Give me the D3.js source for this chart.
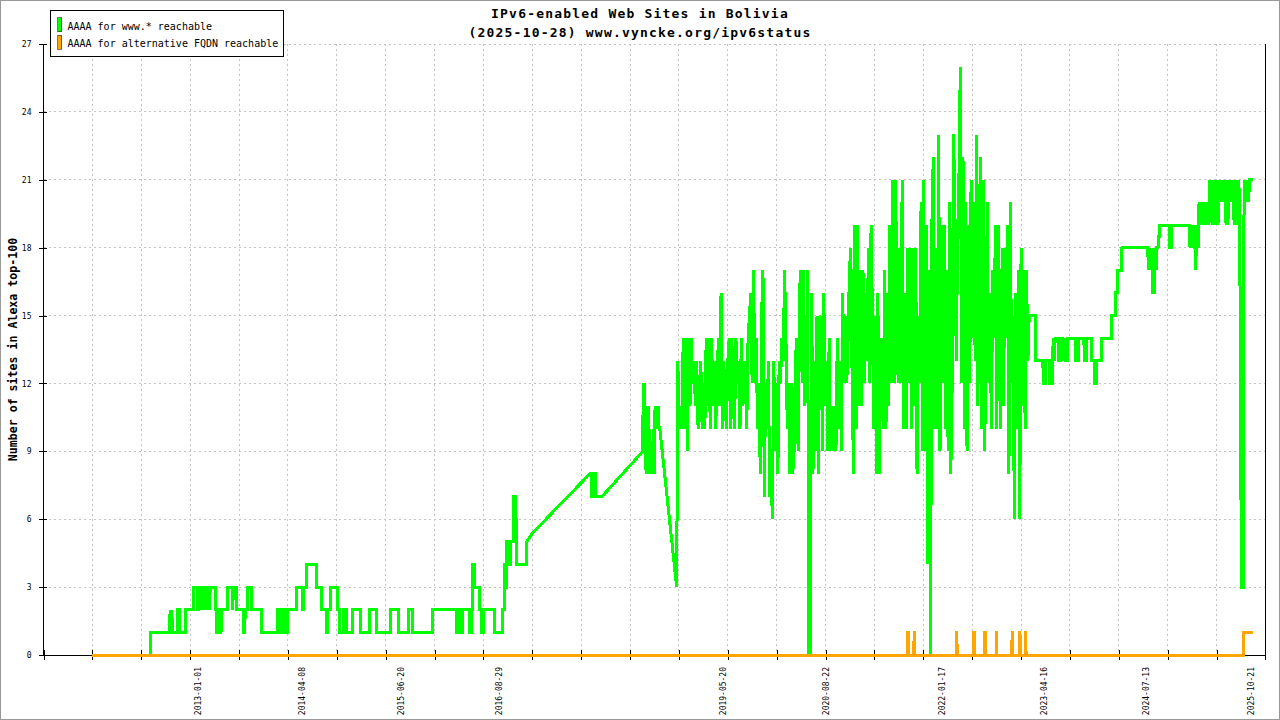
<!DOCTYPE html>
<html><head><meta charset="utf-8">
<script src="https://cdn.jsdelivr.net/npm/d3@7"></script>
<style>
body{margin:0;background:#fff}
svg{display:block}
text{font-family:"DejaVu Sans Mono","Liberation Mono",monospace}
</style></head><body><svg id="c" width="1280" height="720"></svg>
<script>
// ---- data (x = days since startDate) ----
const startDate = "2011-09-20";
const titleLines = ["IPv6-enabled Web Sites in Bolivia", "(2025-10-28) www.vyncke.org/ipv6status"];
const yTitle = "Number of sites in Alexa top-100";
const seriesNames = ["AAAA for www.* reachable", "AAAA for alternative FQDN reachable"];
const seriesColors = ["#00ff00", "#ffa500"];
const yTicks = [0,3,6,9,12,15,18,21,24,27];
const xTickStepDays = 217;
const xDomain = [-217, 5208];
const labelDates = ["2013-01-01","2014-04-08","2015-06-20","2016-08-29","2019-05-20","2020-08-22","2022-01-17","2023-04-16","2024-07-13","2025-10-21"];

const greenEarly = [[0,0],[258,0],[259,1],
[343,1],[345,2],[349,1],[352,2],[356,1],
[376,1],[377,2],[388,2],[389,1],
[414,1],[415,2],[447,2],[448,3],
[466,3],[467,2],[470,2],[471,3],[479,3],[480,2],[482,3],[492,3],[493,2],[496,3],[506,3],[507,2],[509,3],[519,3],[520,2],[523,3],
[546,3],[547,2],
[551,2],[552,1],[556,1],[557,2],[563,2],[564,1],[567,1],[568,2],[572,2],[573,1],[575,2],
[599,2],[600,3],[622,3],[623,2],[626,3],[640,3],[641,2],
[672,2],[673,1],[677,1],[678,2],
[689,2],[690,3],[706,3],[707,2],
[751,2],[752,1],
[822,1],[823,2],[829,2],[830,1],[836,1],[837,2],[843,2],[844,1],[853,1],[854,2],[860,2],[861,1],[866,1],[867,2],
[906,2],[907,3],[932,3],[933,2],[936,2],[937,3],
[951,3],[952,4],[995,4],[996,3],[1017,3],[1018,2],
[1038,2],[1039,1],[1043,1],[1044,2],
[1057,2],[1058,3],[1088,3],[1089,2],[1097,2],[1098,1],
[1115,1],[1116,2],[1128,2],[1129,1],
[1155,1],[1156,2],[1190,2],[1191,1],
[1230,1],[1231,2],[1261,2],[1262,1],
[1323,1],[1324,2],[1359,2],[1360,1],
[1403,1],[1404,2],[1421,2],[1422,1],
[1510,1],[1511,2],
[1617,2],[1618,1],[1622,1],[1623,2],[1627,2],[1628,1],[1632,1],[1633,2],[1640,2],[1641,1],[1644,1],[1645,2],
[1674,2],[1675,1],[1683,1],[1684,2],[1688,2],[1689,4],[1697,4],[1698,3],[1719,3],[1720,2],[1728,2],[1729,1],[1737,1],[1738,2],
[1784,2],[1785,1],[1821,1],[1822,2],[1830,2],[1831,4],
[1834,4],[1835,3],[1838,3],[1839,5],[1842,5],[1843,4],[1846,4],[1847,5],[1852,5],[1853,4],[1855,4],[1856,5],[1860,5],
[1870,5],[1871,7],[1879,7],[1880,6],[1882,6],[1883,4],
[1927,4],[1928,5],[1955,5.4],[2208,8],
[2216,8],[2217,7],[2220,7],[2221,8],[2225,8],[2226,7],[2230,7],[2231,8],[2233,8],[2234,7],[2262,7],
[2444,9],
[2445,12],[2447,10],[2449,12],[2451,11.5],[2453,10],[2455,11],[2458,8],[2461,10],[2464,8],[2467,11],[2470,8],[2474,10],[2478,8],[2482,9],[2486,8],[2490,10],[2494,8],[2498,11],[2501,10],[2504,11],[2508,10],[2512,11],[2516,10],[2519,10],
[2594,3],[2596,7]];

const greenDenseStart = 2599, greenDenseStep = 6;
const greenDense = [
13,10,11,10,14,10,14,9, 14,11,14,12,13,11,13,10, 11,13,10,12,10,14,11,14, 10,14,11,13,10,12,14,11,
16,10,13,11,10,13,14,10, 14,11,10,14,12,13,10,14, 11,13,12,10,14,15,16,12, 17,12,14,10,12,8,15,17,
7,12,10,13,7,8,6,13, 9,12,8,13,12,14,13,17, 14,10,12,8,12,8,9,13, 14,9,16,17,12,17,11,12,
17,0,0,16,8,13,9,15, 8,14,15,9,16,11,13,9, 14,9,11,9,11,9,14,10, 13,9,16,12,15,12,14,17,
18,12,8,19,10,19,11,17, 11,17,12,16,13,18,12,19, 15,10,15,8,16,8,14,12, 10,17,10,16,11,19,12,21,
12,21,17,12,18,12,21,10, 16,10,18,12,18,10,18,11, 18,8,15,12,20,9,21,9, 19,4,17,0,19,22,10,18,
10,23,9,19,12,19,10,17, 9,20,8,12,23,20,13,18, 21,26,12,22,10,20,9,19, 12,21,14,20,13,23,11,19,
22,10,21,9,13,20,12,16, 10,17,14,19,10,19,12,10, 18,11,18,14,19,8,20,12, 15,6,16,10,17,6,18,11,
17,10,17,13,15,15,15,15];

const greenLate = [[4187,15],[4188,13],[4220,13],[4221,12],[4231,12],[4232,13],[4249,13],[4250,12],[4261,12],[4262,13],
[4266,14],[4268,13],[4270,14],[4272,13],[4274,14],
[4287,14],[4288,13],[4298,13],[4299,14],
[4309,14],[4310,13],[4314,14],[4318,13],[4328,13],[4329,14],
[4365,14],[4366,13],[4377,13],[4378,14],
[4402,14],[4403,13],[4414,13],[4415,14],
[4436,14],[4437,13],[4448,13],[4449,12],[4458,12],[4459,13],
[4478,13],[4479,14],[4525,14],[4526,15],[4540,15],[4541,16],[4551,16],[4552,17],[4570,17],[4571,18],
[4686,18],[4687,17],[4692,18],[4696,17],[4700,18],[4702,17],[4706,18],[4708,16],[4714,16],[4715,17],[4720,18],[4722,17],[4726,18],
[4731,18],[4733,18.5],[4738,18.5],[4739,19],
[4780,19],[4781,18],[4792,18],[4793,19],[4865,19]];

const greenDense2Start = 4869, greenDense2Step = 4;
const greenDense2 = [19,18,19,18,19,18,19,17,18,19,18,
20,19,20,19,20,19,20,19,20,19,20,19,
21,20,21,
19,21,19,21,20,21,19,21,20,
21,20,21,20,21,20,
19,21,19,21,
20,21,20,21,20,
19,21,19,20,19,21,
20,12,3,3,3,21,
20,21,20,21,20,21];

const greenEnd = [[5152,21]];

const orange = [[0,0],[3619,0],[3620,1],[3622,1],[3623,0],[3647,0],[3648,1],[3650,1],[3651,0],
[3835,0],[3836,1],[3838,1],[3839,0],[3911,0],[3912,1],[3914,1],[3915,0],[3961,0],[3962,1],[3964,1],[3965,0],
[4012,0],[4013,1],[4015,1],[4016,0],[4082,0],[4083,1],[4085,1],[4086,0],[4115,0],[4116,1],[4118,1],[4119,0],
[4141,0],[4142,1],[4144,1],[4145,0],[5111,0],[5112,1],[5152,1]];

// ---- build ----
const green = [
  ...greenEarly.map(([d,v])=>({d,v})),
  ...greenDense.map((v,i)=>({d: greenDenseStart + i*greenDenseStep, v})),
  ...greenLate.map(([d,v])=>({d,v})),
  ...greenDense2.map((v,i)=>({d: greenDense2Start + i*greenDense2Step, v})),
  ...greenEnd.map(([d,v])=>({d,v}))
];
const orangeData = orange.map(([d,v])=>({d,v}));

const svg = d3.select("#c");
const W = 1280, H = 720;
const x = d3.scaleLinear().domain(xDomain).range([43.5, 1265.5]);
const y = d3.scaleLinear().domain([0,27]).range([655, 44]);
const dayOf = s => Math.round((Date.parse(s) - Date.parse(startDate)) / 86400000);
const tickDays = d3.range(xDomain[0], xDomain[1], xTickStepDays);

svg.append("rect").attr("width",W).attr("height",H).attr("fill","#fff");
svg.append("rect").attr("x",0.5).attr("y",0.5).attr("width",W-1).attr("height",H-1)
  .attr("fill","none").attr("stroke","#999").attr("shape-rendering","crispEdges");

// grid
const grid = svg.append("g").attr("stroke","#c4c4c4").attr("stroke-dasharray","2,3").attr("shape-rendering","crispEdges");
grid.selectAll(".hg").data(yTicks.filter(v=>v>0)).join("line")
  .attr("x1",x(xDomain[0])).attr("x2",x(xDomain[1])).attr("y1",d=>y(d)).attr("y2",d=>y(d));
grid.selectAll(".vg").data(tickDays.filter(d=>d>xDomain[0])).join("line")
  .attr("x1",d=>x(d)).attr("x2",d=>x(d)).attr("y1",y(27)).attr("y2",y(0));

// axes
const yAxis = svg.append("g").attr("transform",`translate(${x(xDomain[0])+3},0)`)
  .call(d3.axisLeft(y).tickValues(yTicks).tickSize(8).tickPadding(7));
yAxis.select(".domain").remove();
yAxis.selectAll("line").attr("shape-rendering","crispEdges").attr("stroke","#000");
yAxis.selectAll("text").attr("font-size","8px").attr("font-family","DejaVu Sans Mono").attr("fill","#000");

const xAxis = svg.append("g").attr("transform",`translate(0,${y(0)-5})`)
  .call(d3.axisBottom(x).tickValues(tickDays).tickSize(10).tickFormat(""));
xAxis.select(".domain").remove();
xAxis.selectAll("line").attr("shape-rendering","crispEdges").attr("stroke","#000");

const axl = svg.append("g").attr("stroke","#000").attr("shape-rendering","crispEdges");
axl.append("line").attr("x1",x(xDomain[0])).attr("x2",x(xDomain[0])).attr("y1",y(27)).attr("y2",y(0));
axl.append("line").attr("x1",x(xDomain[0])).attr("x2",x(xDomain[1])).attr("y1",y(0)).attr("y2",y(0));
axl.append("line").attr("x1",x(xDomain[1])).attr("x2",x(xDomain[1])).attr("y1",y(27)).attr("y2",y(0)+5);

svg.append("g").selectAll("text").data(labelDates).join("text")
  .attr("transform",d=>`translate(${x(dayOf(d))},667) rotate(-90)`)
  .attr("text-anchor","end").attr("dy","0.35em").attr("font-size","8px").attr("fill","#000")
  .text(d=>d);

// lines
const line = d3.line().x(d=>x(d.d)).y(d=>y(d.v));
svg.append("path").datum(green).attr("d",line).attr("fill","none")
  .attr("stroke",seriesColors[0]).attr("stroke-width",3).attr("shape-rendering","crispEdges");
svg.append("path").datum(orangeData).attr("d",line).attr("fill","none")
  .attr("stroke",seriesColors[1]).attr("stroke-width",3).attr("shape-rendering","crispEdges");

// titles
svg.selectAll(".title").data(titleLines).join("text")
  .attr("x",640).attr("y",(d,i)=>18+i*18.5).attr("text-anchor","middle")
  .attr("font-size","13px").attr("font-weight","bold").attr("letter-spacing","1.2px").attr("fill","#000")
  .text(d=>d);
svg.append("text").attr("transform",`translate(13,${(y(0)+y(27))/2}) rotate(-90)`)
  .attr("text-anchor","middle").attr("dy","0.35em").attr("font-size","11.6px").attr("font-weight","bold")
  .attr("fill","#000").text(yTitle);

// legend
const lg = svg.append("g");
lg.append("rect").attr("x",50.5).attr("y",10.5).attr("width",233).attr("height",46)
  .attr("fill","#fff").attr("stroke","#000").attr("shape-rendering","crispEdges");
seriesNames.forEach((n,i)=>{
  lg.append("rect").attr("x",57.5).attr("y",17.5+i*17.5).attr("width",4).attr("height",14)
    .attr("fill",seriesColors[i]).attr("stroke","#222").attr("stroke-width",0.6).attr("shape-rendering","crispEdges");
  lg.append("text").attr("x",67.5).attr("y",29.5+i*17.5).attr("font-size","10px").attr("fill","#000").text(n);
});
</script></body></html>
